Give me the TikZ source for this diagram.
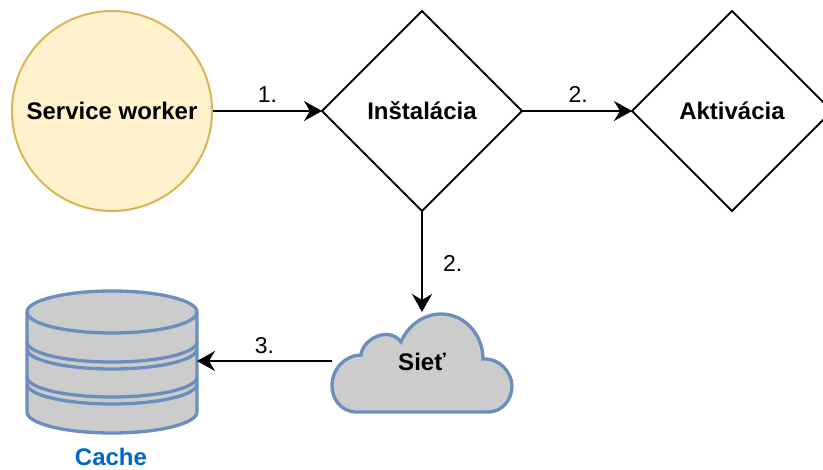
\documentclass[tikz,border=0pt]{standalone}
\usepackage{fontspec}
\setmainfont{Liberation Sans}
\usetikzlibrary{arrows.meta,shapes.geometric}
\definecolor{swfill}{HTML}{FFF2CC}
\definecolor{swline}{HTML}{D6B656}
\definecolor{dbfill}{HTML}{CCCCCC}
\definecolor{dbline}{HTML}{6C8EBF}
\definecolor{cacheblue}{HTML}{0066CC}
\tikzset{
  boldtext/.style={font=\fontsize{24}{28}\selectfont\bfseries},
  steptext/.style={font=\fontsize{23}{27}\selectfont,inner sep=0pt},
  decision/.style={diamond,draw,line width=2pt,boldtext,minimum width=200pt,minimum height=200pt,inner sep=0pt,outer sep=0pt},
  stepline/.style={line width=2pt,-{Stealth[length=18pt,width=20pt,inset=6pt]}},
  storeline/.style={line width=3.3pt,draw=dbline,fill=dbfill}
}
\begin{document}
\begin{tikzpicture}[x=1pt,y=-1pt]
  \useasboundingbox (0,0) rectangle (823,470);
  \node[circle,draw=swline,fill=swfill,line width=2pt,boldtext,minimum size=200pt,inner sep=0pt] (worker) at (112,111) {Service worker};
  \node[decision] (install) at (422,111) {Inštalácia};
  \node[decision] (activate) at (732,111) {Aktivácia};
  % cloud
  \draw[storeline] (357,412) .. controls (340,412) and (332,398) .. (332,386)
    .. controls (332,368) and (346,355) .. (361,355)
    .. controls (362,340) and (388,325) .. (401,342)
    .. controls (408,325) and (424,314) .. (441,314)
    .. controls (465,314) and (483,335) .. (483,359)
    .. controls (500,358) and (512,373) .. (512,386)
    .. controls (512,400) and (502,412) .. (488,412) -- cycle;
  \node[boldtext,inner sep=0pt] (net) at (422,362) {Sieť};
  \coordinate (netwest) at (332,361);
  % cache
  \draw[storeline] (27,312) -- (27,412) arc[start angle=180,end angle=0,x radius=85,y radius=21]
    -- (197,312) arc[start angle=0,end angle=-180,x radius=85,y radius=21] -- cycle;
  \draw[storeline,fill=none] (27,312) arc[start angle=180,end angle=0,x radius=85,y radius=21];
  \foreach \y in {342,349,377,384}
    \draw[storeline,fill=none] (27,\y) arc[start angle=180,end angle=0,x radius=85,y radius=20];
  \coordinate (cacheeast) at (197,361);
  \node[boldtext,text=cacheblue,inner sep=0pt] (cache) at (111,457) {Cache};
  % arrows
  \draw[stepline] (worker) -- node[steptext,pos=.5,above=7pt] {1.} (install);
  \draw[stepline] (install) -- node[steptext,pos=.51,above=7pt] {2.} (activate);
  \draw[stepline] (install) -- node[steptext,pos=.52,right=20pt] {2.} (422,312);
  \draw[stepline] (netwest) -- node[steptext,pos=.5,above=6pt] {3.} (cacheeast);
\end{tikzpicture}
\end{document}
